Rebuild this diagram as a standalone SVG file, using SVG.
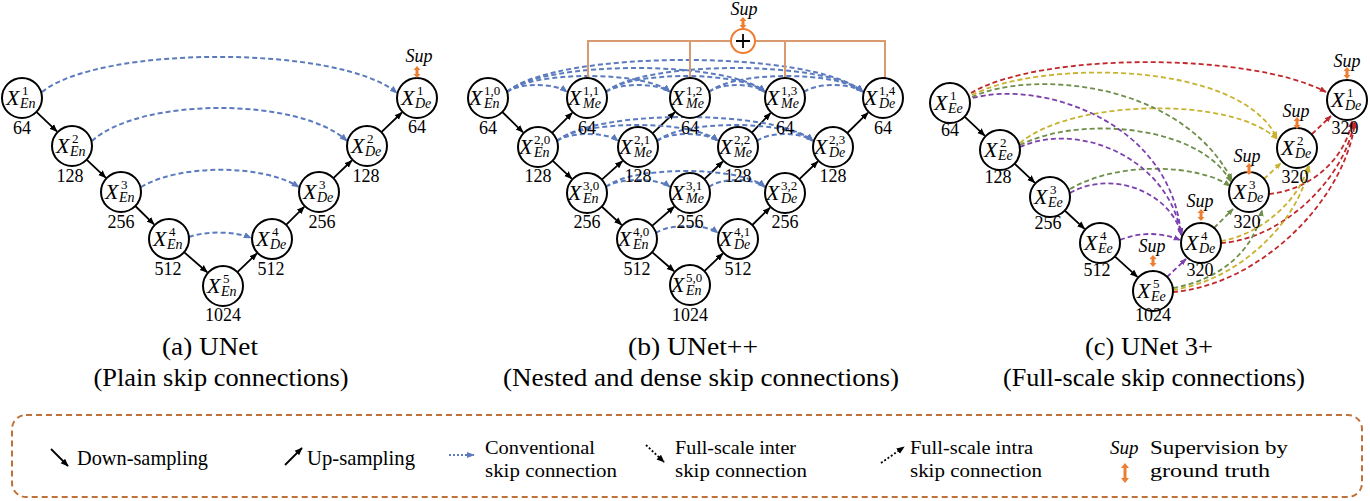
<svg xmlns="http://www.w3.org/2000/svg" xmlns:xlink="http://www.w3.org/1999/xlink" width="1370" height="501" viewBox="0 0 1370 501">
<style>
.n circle{fill:#fff;stroke:#000;stroke-width:2}
.X{font-family:"Liberation Serif",serif;font-style:italic;font-size:22px}
.sp{font-family:"Liberation Serif",serif;font-size:13px}
.sb{font-family:"Liberation Serif",serif;font-style:italic;font-size:14px}
.num{font-family:"Liberation Serif",serif;font-size:18px;text-anchor:middle}
.supt{font-family:"Liberation Serif",serif;font-style:italic;font-size:18px;text-anchor:middle}
.cap{font-family:"Liberation Serif",serif;font-size:26px;text-anchor:middle}
.leg{font-family:"Liberation Serif",serif;font-size:19px}
.leg1{font-family:"Liberation Serif",serif;font-size:21px}
.k{stroke:#000;stroke-width:1.8;fill:none;marker-end:url(#ak)}
.b{stroke:#5B7BBE;stroke-width:2;stroke-dasharray:5 3;fill:none;marker-end:url(#ab)}
.p{stroke:#7B3FAE;stroke-width:1.8;stroke-dasharray:5 3;fill:none;marker-end:url(#ap)}
.g{stroke:#6E8E4A;stroke-width:1.8;stroke-dasharray:5 3;fill:none;marker-end:url(#ag)}
.y{stroke:#C8B22E;stroke-width:1.8;stroke-dasharray:5 3;fill:none;marker-end:url(#ay)}
.r{stroke:#C0282C;stroke-width:1.8;stroke-dasharray:5 3;fill:none;marker-end:url(#ar)}
.o{stroke:#D99A70;stroke-width:2;fill:none}
</style>
<defs>
<marker id="ak" viewBox="0 0 10 10" refX="9" refY="5" markerWidth="8" markerHeight="8" markerUnits="userSpaceOnUse" orient="auto"><path d="M0,1 L10,5 L0,9 z" fill="#000"/></marker>
<marker id="ab" viewBox="0 0 10 10" refX="9" refY="5" markerWidth="8" markerHeight="8" markerUnits="userSpaceOnUse" orient="auto"><path d="M0,1 L10,5 L0,9 z" fill="#5B7BBE"/></marker>
<marker id="ap" viewBox="0 0 10 10" refX="9" refY="5" markerWidth="7" markerHeight="7" markerUnits="userSpaceOnUse" orient="auto"><path d="M0,1 L10,5 L0,9 z" fill="#7B3FAE"/></marker>
<marker id="ag" viewBox="0 0 10 10" refX="9" refY="5" markerWidth="7" markerHeight="7" markerUnits="userSpaceOnUse" orient="auto"><path d="M0,1 L10,5 L0,9 z" fill="#6E8E4A"/></marker>
<marker id="ay" viewBox="0 0 10 10" refX="9" refY="5" markerWidth="7" markerHeight="7" markerUnits="userSpaceOnUse" orient="auto"><path d="M0,1 L10,5 L0,9 z" fill="#C8B22E"/></marker>
<marker id="ar" viewBox="0 0 10 10" refX="9" refY="5" markerWidth="7" markerHeight="7" markerUnits="userSpaceOnUse" orient="auto"><path d="M0,1 L10,5 L0,9 z" fill="#C0282C"/></marker>
<path id="sa" d="M0,-6 L3.5,-2 L1.5,-2 L1.5,2 L3.5,2 L0,6 L-3.5,2 L-1.5,2 L-1.5,-2 L-3.5,-2 Z" fill="#ED7D31"/>
</defs>
<rect width="1370" height="501" fill="#fff"/>

<g id="connectors">
<!-- (a) UNet -->
<line class="k" x1="36.4" y1="111.9" x2="56.9" y2="131.4"/>
<line class="k" x1="86.6" y1="159.7" x2="105.7" y2="177.6"/>
<line class="k" x1="135.3" y1="206" x2="154" y2="224.3"/>
<line class="k" x1="184" y1="252.1" x2="207.2" y2="272.2"/>
<line class="k" x1="237.4" y1="272.2" x2="256.8" y2="253.5"/>
<line class="k" x1="286.1" y1="224.9" x2="304.2" y2="206.8"/>
<line class="k" x1="333.4" y1="178.2" x2="351.8" y2="160.5"/>
<line class="k" x1="381.4" y1="132.1" x2="401.9" y2="112.5"/>
<path class="b" d="M42,92 C100,45 340,45 397,93"/>
<path class="b" d="M92,141 C140,97 300,97 347,141"/>
<path class="b" d="M141,187 C180,164 262,164 299,187"/>
<path class="b" d="M189,237 C205,231 235,231 251,238"/>

<!-- (b) UNet++ -->
<line class="k" x1="502.3" y1="112" x2="523" y2="132.3"/>
<line class="k" x1="552.6" y1="160.7" x2="571.7" y2="178.6"/>
<line class="k" x1="601.7" y1="206.5" x2="621.5" y2="224.8"/>
<line class="k" x1="652.1" y1="252.1" x2="674.1" y2="271.2"/>
<line class="k" x1="552.1" y1="132.9" x2="572.2" y2="112.8"/>
<line class="k" x1="601.8" y1="179.6" x2="622.4" y2="161.1"/>
<line class="k" x1="652.6" y1="133.3" x2="674.7" y2="112.4"/>
<line class="k" x1="652.1" y1="225.9" x2="674.1" y2="206.8"/>
<line class="k" x1="704.4" y1="179.2" x2="722.8" y2="161.5"/>
<line class="k" x1="751.8" y1="132.6" x2="770.5" y2="113.2"/>
<line class="k" x1="704.4" y1="271.2" x2="722.8" y2="253.5"/>
<line class="k" x1="752.3" y1="225" x2="770" y2="207.7"/>
<line class="k" x1="799.4" y1="179.2" x2="817.8" y2="161.5"/>
<line class="k" x1="847.3" y1="133" x2="868" y2="112.7"/>
<path class="b" d="M507,92 C519,82.7 555,82.7 567,92"/>
<path class="b" d="M507,92 C531,70.7 646,70.7 670,92"/>
<path class="b" d="M507,92 C543,60 729,60 765,92"/>
<path class="b" d="M507,92 C555,49.3 815,49.3 863,92"/>
<path class="b" d="M606,92 C618,82.7 658,82.7 670,92"/>
<path class="b" d="M606,92 C630,70.7 741,70.7 765,92"/>
<path class="b" d="M606,92 C642,60 827,60 863,92"/>
<path class="b" d="M709,92 C721,82.7 753,82.7 765,92"/>
<path class="b" d="M709,92 C733,70.7 839,70.7 863,92"/>
<path class="b" d="M804,92 C816,82.7 851,82.7 863,92"/>
<path class="b" d="M557,141 C569,131.7 607,131.7 618,141"/>
<path class="b" d="M557,141 C581,119.7 694,119.7 718,141"/>
<path class="b" d="M557,141 C593,109 777,109 813,141"/>
<path class="b" d="M657,141 C669,131.7 706,131.7 718,141"/>
<path class="b" d="M657,141 C681,119.7 789,119.7 813,141"/>
<path class="b" d="M757,141 C769,131.7 801,131.7 813,141"/>
<path class="b" d="M606,187 C618,177.7 658,177.7 670,187"/>
<path class="b" d="M606,187 C630,165.7 741,165.7 765,187"/>
<path class="b" d="M709,187 C721,177.7 753,177.7 765,187"/>
<path class="b" d="M656,233 C668,223.7 706,223.7 718,233"/>
<path class="o" d="M588,78 V41 H885 V78 M690,41 V78 M785,41 V78"/>

<!-- (c) UNet 3+ -->
<line class="k" x1="964.6" y1="116.7" x2="984.7" y2="135.6"/>
<line class="k" x1="1014.6" y1="163.7" x2="1034.7" y2="182.6"/>
<line class="k" x1="1064.7" y1="210.5" x2="1084.5" y2="228.8"/>
<line class="k" x1="1114.8" y1="256.4" x2="1137.4" y2="276.9"/>
<!-- to De1 (red) -->
<path class="r" d="M971,93 C1040,52 1250,52 1326,92"/>
<path class="r" d="M1312,134 L1331,116"/>
<path class="r" d="M1269,194 C1310,190 1345,160 1352,121"/>
<path class="r" d="M1221,243 C1280,240 1345,180 1354,122"/>
<path class="r" d="M1173,292 C1260,285 1345,200 1355,122"/>
<!-- to De2 (yellow) -->
<path class="y" d="M972,95 C1040,60 1240,60 1277,138"/>
<path class="y" d="M1020,143 C1070,100 1230,95 1277,139"/>
<path class="y" d="M1264,179 L1281,163"/>
<path class="y" d="M1221,241 C1260,235 1300,200 1308,166"/>
<path class="y" d="M1173,290 C1240,280 1300,220 1309,166"/>
<!-- to De3 (green) -->
<path class="g" d="M972,97 C1030,70 1180,80 1232,180"/>
<path class="g" d="M1020,145 C1080,115 1200,125 1231,182"/>
<path class="g" d="M1070,189 C1120,160 1200,165 1230,186"/>
<path class="g" d="M1214,228 L1233,209"/>
<path class="g" d="M1173,288 C1220,280 1255,250 1262,210"/>
<!-- to De4 (purple) -->
<path class="p" d="M973,98 C1040,80 1170,120 1181,234"/>
<path class="p" d="M1020,147 C1080,120 1170,160 1181,235"/>
<path class="p" d="M1070,193 C1110,170 1170,190 1182,236"/>
<path class="p" d="M1120,240 C1140,232 1160,232 1180,240"/>
<path class="p" d="M1167,277 L1186,259"/>
</g>

<!-- (a) UNet nodes -->
<g id="a-en1" class="n"><circle cx="22" cy="98" r="20"/><text class="X" x="6" y="105">X</text><text class="sp" x="22" y="95">1</text><text class="sb" x="20" y="108">En</text><text class="num" x="22" y="134">64</text></g>
<g id="a-en2" class="n"><circle cx="72" cy="146" r="20"/><text class="X" x="56" y="153">X</text><text class="sp" x="72" y="143">2</text><text class="sb" x="70" y="156">En</text><text class="num" x="70" y="182">128</text></g>
<g id="a-en3" class="n"><circle cx="121" cy="192" r="20"/><text class="X" x="105" y="199">X</text><text class="sp" x="121" y="189">3</text><text class="sb" x="119" y="202">En</text><text class="num" x="121" y="228">256</text></g>
<g id="a-en4" class="n"><circle cx="169" cy="239" r="20"/><text class="X" x="153" y="246">X</text><text class="sp" x="169" y="236">4</text><text class="sb" x="167" y="249">En</text><text class="num" x="168" y="275">512</text></g>
<g id="a-en5" class="n"><circle cx="223" cy="286" r="20"/><text class="X" x="207" y="293">X</text><text class="sp" x="223" y="283">5</text><text class="sb" x="221" y="296">En</text><text class="num" x="223" y="321">1024</text></g>
<g id="a-de4" class="n"><circle cx="272" cy="239" r="20"/><text class="X" x="256" y="246">X</text><text class="sp" x="272" y="236">4</text><text class="sb" x="270" y="249">De</text><text class="num" x="271" y="275">512</text></g>
<g id="a-de3" class="n"><circle cx="319" cy="192" r="20"/><text class="X" x="303" y="199">X</text><text class="sp" x="319" y="189">3</text><text class="sb" x="317" y="202">De</text><text class="num" x="322" y="228">256</text></g>
<g id="a-de2" class="n"><circle cx="367" cy="146" r="20"/><text class="X" x="351" y="153">X</text><text class="sp" x="367" y="143">2</text><text class="sb" x="365" y="156">De</text><text class="num" x="366" y="182">128</text></g>
<g id="a-de1" class="n"><circle cx="417" cy="98" r="20"/><text class="X" x="401" y="105">X</text><text class="sp" x="417" y="95">1</text><text class="sb" x="415" y="108">De</text><text class="num" x="417" y="133">64</text></g>
<g id="a-sup"><text class="supt" x="419" y="62">Sup</text><use href="#sa" x="417" y="72"/></g>

<!-- (b) UNet++ nodes -->
<g id="b-x10" class="n"><circle cx="488" cy="98" r="20"/><text class="X" x="469" y="105">X</text><text class="sp" x="484" y="95">1,0</text><text class="sb" x="484" y="108">En</text><text class="num" x="488" y="134">64</text></g>
<g id="b-x11" class="n"><circle cx="587" cy="98" r="20"/><text class="X" x="568" y="105">X</text><text class="sp" x="583" y="95">1,1</text><text class="sb" x="583" y="108">Me</text><text class="num" x="587" y="134">64</text></g>
<g id="b-x12" class="n"><circle cx="690" cy="98" r="20"/><text class="X" x="671" y="105">X</text><text class="sp" x="686" y="95">1,2</text><text class="sb" x="686" y="108">Me</text><text class="num" x="690" y="134">64</text></g>
<g id="b-x13" class="n"><circle cx="785" cy="98" r="20"/><text class="X" x="766" y="105">X</text><text class="sp" x="781" y="95">1,3</text><text class="sb" x="781" y="108">Me</text><text class="num" x="785" y="134">64</text></g>
<g id="b-x14" class="n"><circle cx="883" cy="98" r="20"/><text class="X" x="864" y="105">X</text><text class="sp" x="879" y="95">1,4</text><text class="sb" x="879" y="108">De</text><text class="num" x="883" y="134">64</text></g>
<g id="b-x20" class="n"><circle cx="538" cy="147" r="20"/><text class="X" x="519" y="154">X</text><text class="sp" x="534" y="144">2,0</text><text class="sb" x="534" y="157">En</text><text class="num" x="538" y="182">128</text></g>
<g id="b-x21" class="n"><circle cx="638" cy="147" r="20"/><text class="X" x="619" y="154">X</text><text class="sp" x="634" y="144">2,1</text><text class="sb" x="634" y="157">Me</text><text class="num" x="638" y="182">128</text></g>
<g id="b-x22" class="n"><circle cx="738" cy="147" r="20"/><text class="X" x="719" y="154">X</text><text class="sp" x="734" y="144">2,2</text><text class="sb" x="734" y="157">Me</text><text class="num" x="738" y="182">128</text></g>
<g id="b-x23" class="n"><circle cx="833" cy="147" r="20"/><text class="X" x="814" y="154">X</text><text class="sp" x="829" y="144">2,3</text><text class="sb" x="829" y="157">De</text><text class="num" x="833" y="182">128</text></g>
<g id="b-x30" class="n"><circle cx="587" cy="193" r="20"/><text class="X" x="568" y="200">X</text><text class="sp" x="583" y="190">3,0</text><text class="sb" x="583" y="203">En</text><text class="num" x="587" y="228">256</text></g>
<g id="b-x31" class="n"><circle cx="690" cy="193" r="20"/><text class="X" x="671" y="200">X</text><text class="sp" x="686" y="190">3,1</text><text class="sb" x="686" y="203">Me</text><text class="num" x="690" y="228">256</text></g>
<g id="b-x32" class="n"><circle cx="785" cy="193" r="20"/><text class="X" x="766" y="200">X</text><text class="sp" x="781" y="190">3,2</text><text class="sb" x="781" y="203">De</text><text class="num" x="785" y="228">256</text></g>
<g id="b-x40" class="n"><circle cx="637" cy="239" r="20"/><text class="X" x="618" y="246">X</text><text class="sp" x="633" y="236">4,0</text><text class="sb" x="633" y="249">En</text><text class="num" x="637" y="275">512</text></g>
<g id="b-x41" class="n"><circle cx="738" cy="239" r="20"/><text class="X" x="719" y="246">X</text><text class="sp" x="734" y="236">4,1</text><text class="sb" x="734" y="249">De</text><text class="num" x="738" y="275">512</text></g>
<g id="b-x50" class="n"><circle cx="690" cy="285" r="20"/><text class="X" x="671" y="292">X</text><text class="sp" x="686" y="282">5,0</text><text class="sb" x="686" y="295">En</text><text class="num" x="690" y="321">1024</text></g>
<g id="b-sum"><circle cx="743" cy="41" r="12" fill="#fff" stroke="#ED7D31" stroke-width="2"/><path d="M736,41 H750 M743,34 V48" stroke="#000" stroke-width="1.8"/><text class="supt" x="744" y="15">Sup</text><use href="#sa" x="743" y="23"/></g>

<!-- (c) UNet 3+ nodes -->
<g id="c-ee1" class="n"><circle cx="950" cy="103" r="20"/><text class="X" x="934" y="110">X</text><text class="sp" x="950" y="100">1</text><text class="sb" x="948" y="113">Ee</text><text class="num" x="950" y="136">64</text></g>
<g id="c-ee2" class="n"><circle cx="1000" cy="150" r="20"/><text class="X" x="984" y="157">X</text><text class="sp" x="1000" y="147">2</text><text class="sb" x="998" y="160">Ee</text><text class="num" x="998" y="183">128</text></g>
<g id="c-ee3" class="n"><circle cx="1050" cy="197" r="20"/><text class="X" x="1034" y="204">X</text><text class="sp" x="1050" y="194">3</text><text class="sb" x="1048" y="207">Ee</text><text class="num" x="1048" y="229">256</text></g>
<g id="c-ee4" class="n"><circle cx="1100" cy="243" r="20"/><text class="X" x="1084" y="250">X</text><text class="sp" x="1100" y="240">4</text><text class="sb" x="1098" y="253">Ee</text><text class="num" x="1097" y="276">512</text></g>
<g id="c-ee5" class="n"><circle cx="1153" cy="291" r="20"/><text class="X" x="1137" y="298">X</text><text class="sp" x="1153" y="288">5</text><text class="sb" x="1151" y="301">Ee</text><text class="num" x="1153" y="321">1024</text></g>
<g id="c-de4" class="n"><circle cx="1201" cy="243" r="20"/><text class="X" x="1185" y="250">X</text><text class="sp" x="1201" y="240">4</text><text class="sb" x="1199" y="253">De</text><text class="num" x="1200" y="276">320</text></g>
<g id="c-de3" class="n"><circle cx="1249" cy="192" r="20"/><text class="X" x="1233" y="199">X</text><text class="sp" x="1249" y="189">3</text><text class="sb" x="1247" y="202">De</text><text class="num" x="1247" y="228">320</text></g>
<g id="c-de2" class="n"><circle cx="1297" cy="148" r="20"/><text class="X" x="1281" y="155">X</text><text class="sp" x="1297" y="145">2</text><text class="sb" x="1295" y="158">De</text><text class="num" x="1295" y="183">320</text></g>
<g id="c-de1" class="n"><circle cx="1347" cy="100" r="20"/><text class="X" x="1331" y="107">X</text><text class="sp" x="1347" y="97">1</text><text class="sb" x="1345" y="110">De</text><text class="num" x="1345" y="134">320</text></g>
<g id="c-sup">
<text class="supt" x="1152" y="252">Sup</text><use href="#sa" x="1153" y="261"/>
<text class="supt" x="1200" y="207">Sup</text><use href="#sa" x="1201" y="215"/>
<text class="supt" x="1247" y="162">Sup</text><use href="#sa" x="1249" y="169"/>
<text class="supt" x="1296" y="117">Sup</text><use href="#sa" x="1297" y="123"/>
<text class="supt" x="1347" y="67">Sup</text><use href="#sa" x="1347" y="73"/>
</g>

<!-- captions -->
<g id="captions">
<text class="cap" x="210" y="355" textLength="96" lengthAdjust="spacingAndGlyphs">(a) UNet</text>
<text class="cap" x="221" y="386" textLength="255" lengthAdjust="spacingAndGlyphs">(Plain skip connections)</text>
<text class="cap" x="693" y="355" textLength="130" lengthAdjust="spacingAndGlyphs">(b) UNet++</text>
<text class="cap" x="701" y="386" textLength="396" lengthAdjust="spacingAndGlyphs">(Nested and dense skip connections)</text>
<text class="cap" x="1149" y="355" textLength="128" lengthAdjust="spacingAndGlyphs">(c) UNet 3+</text>
<text class="cap" x="1154" y="386" textLength="302" lengthAdjust="spacingAndGlyphs">(Full-scale skip connections)</text>
</g>

<!-- legend -->
<g id="legend">
<rect x="12" y="415" width="1350" height="82" rx="14" fill="none" stroke="#C0713A" stroke-width="2" stroke-dasharray="6 4"/>
<line class="k" x1="51" y1="449" x2="68" y2="466"/>
<text class="leg1" x="77" y="465" textLength="131" lengthAdjust="spacingAndGlyphs">Down-sampling</text>
<line class="k" x1="285" y1="465" x2="302" y2="448"/>
<text class="leg1" x="307" y="465" textLength="108" lengthAdjust="spacingAndGlyphs">Up-sampling</text>
<line x1="449" y1="455" x2="474" y2="455" stroke="#5B7BBE" stroke-width="2" stroke-dasharray="2 2" marker-end="url(#ab)"/>
<text class="leg" x="485" y="454" textLength="110" lengthAdjust="spacingAndGlyphs">Conventional</text>
<text class="leg" x="485" y="477" textLength="132" lengthAdjust="spacingAndGlyphs">skip connection</text>
<line x1="646" y1="445" x2="664" y2="462" stroke="#000" stroke-width="1.8" stroke-dasharray="2 2" marker-end="url(#ak)"/>
<text class="leg" x="675" y="454" textLength="121" lengthAdjust="spacingAndGlyphs">Full-scale inter</text>
<text class="leg" x="675" y="477" textLength="132" lengthAdjust="spacingAndGlyphs">skip connection</text>
<line x1="881" y1="463" x2="904" y2="447" stroke="#000" stroke-width="1.8" stroke-dasharray="2 2" marker-end="url(#ak)"/>
<text class="leg" x="910" y="454" textLength="123" lengthAdjust="spacingAndGlyphs">Full-scale intra</text>
<text class="leg" x="910" y="477" textLength="132" lengthAdjust="spacingAndGlyphs">skip connection</text>
<text x="1110" y="454" font-family="Liberation Serif, serif" font-style="italic" font-size="19">Sup</text>
<path d="M1125,463 l4,5 h-2.5 v10 h2.5 l-4,5 l-4,-5 h2.5 v-10 h-2.5 z" fill="#ED7D31"/>
<text class="leg" x="1150" y="454" textLength="138" lengthAdjust="spacingAndGlyphs">Supervision by</text>
<text class="leg" x="1150" y="477" textLength="120" lengthAdjust="spacingAndGlyphs">ground truth</text>
</g>
</svg>
